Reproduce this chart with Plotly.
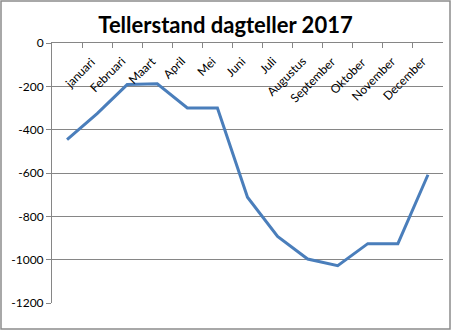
import plotly.graph_objects as go

# Meter readings of the day counter, one reading per month boundary
maanden = ["januari", "Februari", "Maart", "April", "Mei", "Juni", "Juli",
           "Augustus", "September", "Oktober", "November", "December"]
labels = [""] + maanden
stand = [-446, -326, -192, -188, -300, -300, -712, -893, -997, -1028, -926, -926, -608]
y_ticks = [0, -200, -400, -600, -800, -1000, -1200]

pos = list(range(len(stand)))

W, H = 451, 330
L, R, T, B = 52, 8, 43, 27
AXIS = "#868686"

fig = go.Figure(go.Scatter(
    x=pos, y=stand, mode="lines",
    line=dict(color="#4A7EBB", width=3),
    hoverinfo="skip",
))

fig.update_layout(
    width=W, height=H,
    margin=dict(l=L, r=R, t=T, b=B),
    paper_bgcolor="white", plot_bgcolor="white",
    showlegend=False,
    font=dict(family="Lato", size=12, color="black"),
    title=dict(
        text="<b>Tellerstand dagteller 2017</b>",
        x=0.5, xref="container", xanchor="center",
        y=1 - 25 / H, yref="container", yanchor="middle",
        font=dict(family="Lato", size=22, color="black"),
    ),
)

# category boundaries carry the tick marks on the zero line
bounds = [i - 0.5 for i in range(len(stand) + 1)]
fig.update_xaxes(
    range=[-0.5, len(stand) - 0.5], side="top",
    showgrid=False, zeroline=False,
    showline=True, linecolor=AXIS, linewidth=1,
    tickmode="array", tickvals=bounds, ticktext=[""] * len(bounds),
    ticks="inside", ticklen=5, tickcolor=AXIS,
)
fig.update_yaxes(
    range=[-1200, 0],
    tickmode="array", tickvals=y_ticks, ticktext=[str(v) for v in y_ticks],
    showgrid=True, gridcolor=AXIS, gridwidth=1, zeroline=False,
    showline=True, linecolor=AXIS, linewidth=1,
    ticks="outside", ticklen=5, tickcolor=AXIS,
    tickfont=dict(family="Lato", size=12, color="black"),
)

# slanted month names hanging below the zero line
for x, t in zip(pos, labels):
    if not t:
        continue
    fig.add_annotation(
        x=x, y=0, xref="x", yref="y", text=t, showarrow=False,
        textangle=-45, xanchor="right", yanchor="top",
        xshift=4, yshift=-8,
        font=dict(family="Lato", size=12, color="black"),
    )

# chart border
pw, ph = W - L - R, H - T - B
fig.add_shape(
    type="rect", xref="paper", yref="paper",
    x0=-(L - 1) / pw, x1=1 + (R - 1) / pw,
    y0=-(B - 1) / ph, y1=1 + (T - 1) / ph,
    line=dict(color="#8C8C8C", width=1.5),
    layer="above",
)

fig.write_html("out.html")
